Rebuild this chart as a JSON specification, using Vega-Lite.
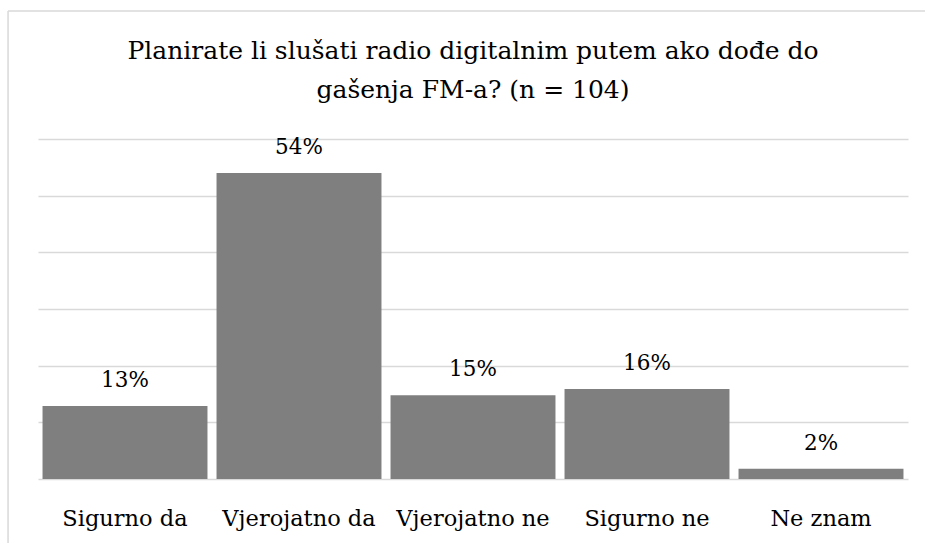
{
  "$schema": "https://vega.github.io/schema/vega-lite/v6.json",
  "width": 870,
  "height": 340,
  "autosize": {"type": "none"},
  "padding": {"left": 38, "top": 139, "right": 17, "bottom": 64},
  "background": "white",
  "title": {
    "text": ["Planirate li slušati radio digitalnim putem ako dođe do", "gašenja FM-a? (n = 104)"],
    "font": "DejaVu Serif",
    "fontSize": 25,
    "fontWeight": "normal",
    "color": "black",
    "anchor": "middle",
    "frame": "group",
    "lineHeight": 39,
    "baseline": "bottom",
    "offset": -118
  },
  "datasets": {
    "odgovori": [
      {"odgovor": "Sigurno da", "udio": 0.129},
      {"odgovor": "Vjerojatno da", "udio": 0.54},
      {"odgovor": "Vjerojatno ne", "udio": 0.148},
      {"odgovor": "Sigurno ne", "udio": 0.159},
      {"odgovor": "Ne znam", "udio": 0.018}
    ],
    "okvir": [
      {"prvi": "Sigurno da", "zadnji": "Ne znam"}
    ]
  },
  "layer": [
    {
      "data": {"name": "odgovori"},
      "mark": {"type": "bar", "color": "#7f7f7f"},
      "encoding": {
        "x": {
          "field": "odgovor",
          "type": "nominal",
          "sort": null,
          "scale": {"domain": ["Sigurno da", "Vjerojatno da", "Vjerojatno ne", "Sigurno ne", "Ne znam"], "paddingInner": 0.052, "paddingOuter": 0.026},
          "axis": {
            "title": null,
            "labelAngle": 0,
            "labelFont": "DejaVu Serif",
            "labelFontSize": 22.5,
            "labelColor": "black",
            "labelBaseline": "alphabetic",
            "labelPadding": 46,
            "ticks": false,
            "domain": false,
            "grid": false
          }
        },
        "y": {
          "field": "udio",
          "type": "quantitative",
          "scale": {"domain": [0, 0.6]},
          "axis": {
            "title": null,
            "labels": false,
            "ticks": false,
            "domain": false,
            "values": [0, 0.1, 0.2, 0.3, 0.4, 0.5, 0.6],
            "grid": true,
            "gridColor": "#d9d9d9",
            "gridWidth": 1.5
          }
        }
      }
    },
    {
      "data": {"name": "odgovori"},
      "mark": {"type": "text", "baseline": "alphabetic", "dy": -19, "font": "DejaVu Serif", "fontSize": 21.5, "color": "black"},
      "encoding": {
        "x": {"field": "odgovor", "type": "nominal"},
        "y": {"field": "udio", "type": "quantitative"},
        "text": {"field": "udio", "type": "quantitative", "format": ".0%"}
      }
    },
    {
      "data": {"name": "okvir"},
      "mark": {"type": "rule", "color": "#d9d9d9", "strokeWidth": 1.5, "clip": false},
      "encoding": {
        "x": {"field": "prvi", "type": "nominal", "bandPosition": -0.209},
        "x2": {"field": "zadnji", "bandPosition": 1.2},
        "y": {"datum": 0.826}
      }
    },
    {
      "data": {"name": "okvir"},
      "mark": {"type": "rule", "color": "#d9d9d9", "strokeWidth": 1.5, "clip": false},
      "encoding": {
        "x": {"field": "prvi", "type": "nominal", "bandPosition": -0.209},
        "y": {"datum": 0.826},
        "y2": {"datum": -0.2}
      }
    }
  ],
  "config": {"view": {"stroke": null}}
}
